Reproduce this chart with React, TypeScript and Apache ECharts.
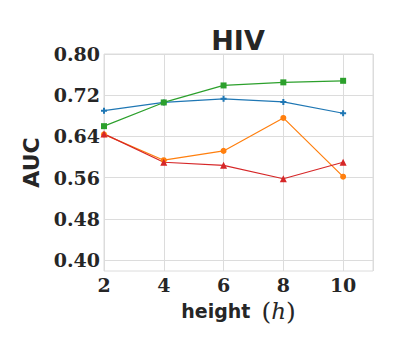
import React, { useEffect, useRef } from "react";
import * as echarts from "echarts";

const heights = [2, 4, 6, 8, 10];
const blueValues = [0.69, 0.706, 0.713, 0.707, 0.685];
const greenValues = [0.66, 0.706, 0.739, 0.745, 0.748];
const orangeValues = [0.644, 0.594, 0.612, 0.676, 0.562];
const redValues = [0.645, 0.59, 0.584, 0.558, 0.59];
const yTicks = [0.4, 0.48, 0.56, 0.64, 0.72, 0.8];

const TEXT = "#262626";
const GRID = "#dcdcdc";

function pairs(vals: number[]) {
  return heights.map((h, i) => [h, vals[i]]);
}

export default function App() {
  const ref = useRef<HTMLDivElement>(null);
  useEffect(() => {
    if (!ref.current) return;
    const chart = echarts.init(ref.current, null, { renderer: "svg" });
    const mk = (name: string, vals: number[], color: string, symbol: string, size: number) => ({
      name,
      type: "line",
      data: pairs(vals),
      symbol,
      symbolSize: size,
      lineStyle: { color, width: 1.2 },
      itemStyle: { color },
      z: 3,
    });
    chart.setOption({
      animation: false,
      title: {
        text: "HIV",
        left: 233,
        textAlign: "center",
        top: 22,
        textStyle: { fontFamily: "DejaVu Sans", fontWeight: "bold", fontSize: 27, color: TEXT },
      },
      grid: {
        left: 104,
        right: 27,
        top: 54,
        bottom: 79,
        show: true,
        borderColor: GRID,
        borderWidth: 1,
      },
      xAxis: {
        type: "value",
        min: 2,
        max: 11,
        interval: 2,
        axisLine: { show: false },
        axisTick: { show: false },
        splitLine: { show: true, lineStyle: { color: GRID, width: 1 } },
        axisLabel: {
          showMaxLabel: false,
          margin: 4,
          fontFamily: "DejaVu Serif",
          fontWeight: "bold",
          fontSize: 19,
          color: TEXT,
        },
        name: "{a|height}{s| }{b|(}{c|h}{b|)}",
        nameLocation: "middle",
        nameGap: 22,
        nameTextStyle: {
          rich: {
            a: { fontFamily: "DejaVu Sans", fontWeight: "bold", fontSize: 19, color: TEXT },
            s: { fontFamily: "DejaVu Sans", fontSize: 19, width: 11 },
            b: { fontFamily: "DejaVu Serif", fontSize: 25, color: TEXT },
            c: { fontFamily: "DejaVu Serif", fontStyle: "italic", fontSize: 23, color: TEXT },
          },
        },
      },
      yAxis: {
        type: "value",
        min: 0.379,
        max: 0.8,
        axisLine: { show: false },
        axisTick: { show: false, customValues: yTicks },
        splitLine: { show: true, lineStyle: { color: GRID, width: 1 } },
        axisLabel: {
          customValues: yTicks,
          formatter: (v: number) => v.toFixed(2),
          margin: 4,
          fontFamily: "DejaVu Serif",
          fontWeight: "bold",
          fontSize: 19,
          color: TEXT,
        },
        name: "AUC",
        nameLocation: "middle",
        nameGap: 58,
        nameTextStyle: { fontFamily: "DejaVu Sans", fontWeight: "bold", fontSize: 22, color: TEXT },
      },
      series: [
        mk("blue", blueValues, "#1f77b4", "path://M-1,-3h2v2h2v2h-2v2h-2v-2h-2v-2h2z", 6),
        mk("green", greenValues, "#2ca02c", "rect", 6),
        mk("orange", orangeValues, "#ff7f0e", "circle", 6),
        mk("red", redValues, "#d62728", "triangle", 7),
      ],
    });
    return () => chart.dispose();
  }, []);
  return <div ref={ref} style={{ width: 400, height: 350, margin: -8 }} />;
}
